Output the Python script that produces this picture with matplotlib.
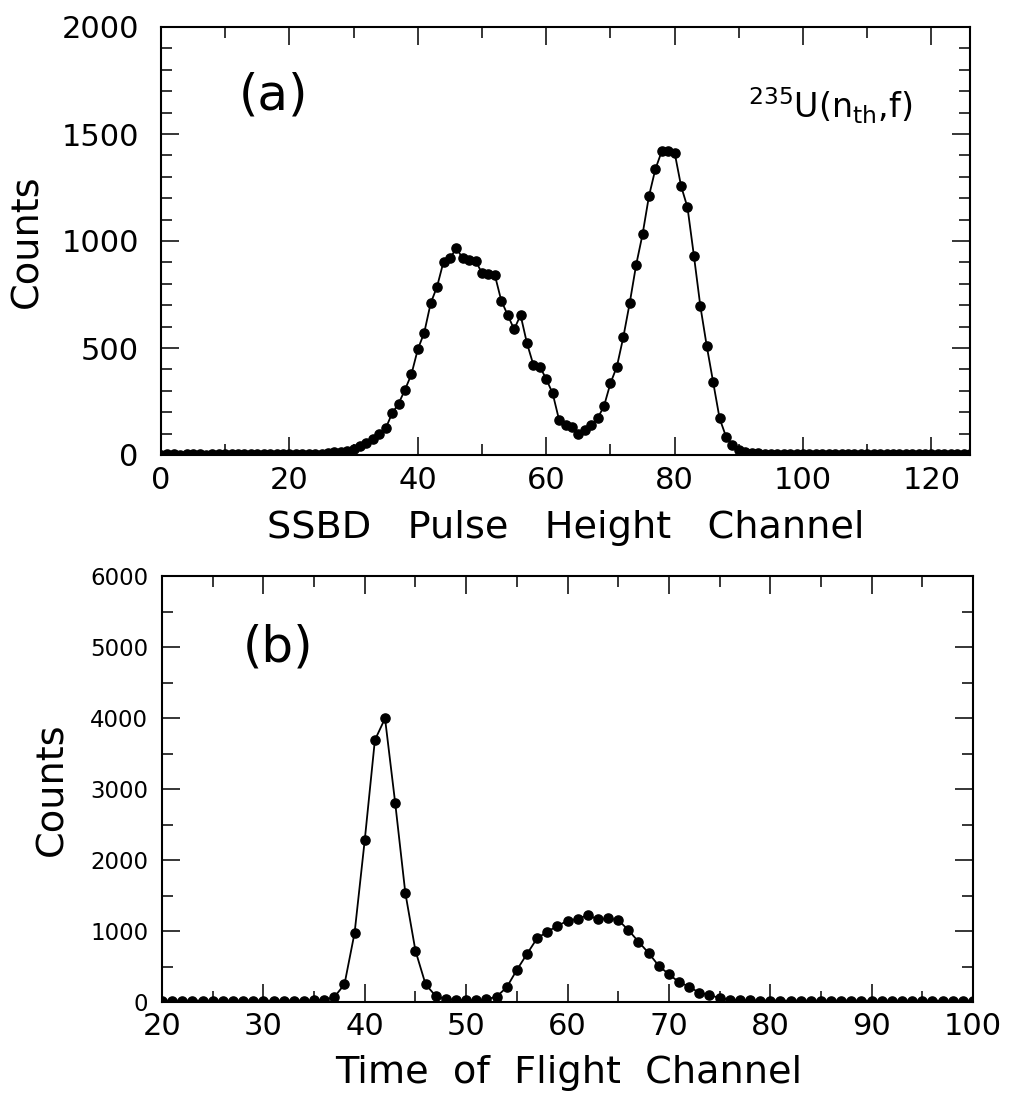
import numpy as np
import matplotlib
matplotlib.use("Agg")
import matplotlib.pyplot as plt
from matplotlib.ticker import MultipleLocator

plt.rcParams['font.family'] = ['DejaVu Sans']
plt.rcParams['mathtext.fontset'] = 'dejavusans'

# ---------------- data ----------------
# Panel (a): SSBD pulse height spectrum, channels 0..126
ssbd_channel = list(range(0, 127))
ssbd_counts = [
    2, 3, 3, 2, 3, 3, 3, 2, 3, 3, 3, 3, 4, 3, 3, 4, 3, 4, 4, 4,          # 0-19
    4, 5, 5, 6, 6, 7, 9, 12, 15, 20,                                     # 20-29
    28, 40, 55, 75, 100, 125, 195, 240, 305, 377,                        # 30-39
    494, 572, 709, 787, 903, 919, 966, 919, 911, 908,                    # 40-49
    849, 846, 840, 721, 654, 587, 654, 522, 421, 413,                    # 50-59
    355, 288, 164, 140, 129, 97, 117, 140, 171, 229,                     # 60-69
    335, 413, 550, 710, 888, 1031, 1210, 1336, 1420, 1422,               # 70-79
    1412, 1257, 1157, 931, 696, 509, 340, 171, 86, 47,                   # 80-89
    25, 15, 10, 8, 6, 5, 5, 4, 4, 4,                                     # 90-99
    4, 4, 4, 3, 3, 3, 3, 3, 3, 3,                                        # 100-109
    3, 3, 3, 3, 3, 3, 3, 3, 3, 3,                                        # 110-119
    3, 3, 3, 3, 3, 3, 3,                                                 # 120-126
]

# Panel (b): time of flight spectrum, channels 20..100
tof_channel = list(range(20, 101))
tof_counts = [
    18, 20, 19, 21, 20, 18, 20, 19, 20, 21,                              # 20-29
    20, 19, 20, 21, 20, 22,                                              # 30-35
    30, 70, 249, 976,                                                    # 36-39
    2281, 3689, 3994, 2807, 1539, 723, 249, 84,                          # 40-47
    40, 30, 25, 22, 38, 75,                                              # 48-53
    206, 451, 676, 897, 990, 1070, 1145, 1169, 1225, 1164,               # 54-63
    1178, 1155, 1014, 850, 690, 510, 390, 280, 216, 130,                 # 64-73
    100, 55, 35, 28, 22, 20,                                             # 74-79
    21, 20, 19, 20, 18, 20, 19, 20, 21, 19, 20,                          # 80-90
    19, 20, 18, 20, 19, 20, 19, 18, 20, 19,                              # 91-100
]

xlabel_a = "SSBD   Pulse   Height   Channel"
xlabel_b = "Time  of  Flight  Channel"
ylabel = "Counts"

# ---------------- figure ----------------
fig = plt.figure(figsize=(10.13, 10.96), dpi=100)
ax1 = fig.add_axes([161/1013, 1-455/1096, 809/1013, 428/1096])
ax2 = fig.add_axes([162/1013, 1-1002/1096, 811/1013, 426/1096])

line_kw = dict(color='black', marker='o', markersize=6.6, linewidth=1.3,
               markerfacecolor='black', markeredgecolor='black', clip_on=True)

ax1.plot(ssbd_channel, ssbd_counts, **line_kw)
ax2.plot(tof_channel, tof_counts, **line_kw)

ax1.set_xlim(0, 126)
ax1.set_ylim(0, 2000)
ax1.xaxis.set_major_locator(MultipleLocator(20))
ax1.xaxis.set_minor_locator(MultipleLocator(10))
ax1.yaxis.set_major_locator(MultipleLocator(500))
ax1.yaxis.set_minor_locator(MultipleLocator(100))

ax2.set_xlim(20, 100)
ax2.set_ylim(0, 6000)
ax2.xaxis.set_major_locator(MultipleLocator(10))
ax2.xaxis.set_minor_locator(MultipleLocator(5))
ax2.yaxis.set_major_locator(MultipleLocator(1000))
ax2.yaxis.set_minor_locator(MultipleLocator(500))

for ax in (ax1, ax2):
    for s in ax.spines.values():
        s.set_linewidth(1.5)
    ax.tick_params(which='both', direction='in', top=True, right=True,
                   width=1.1, color='black')
    ax.tick_params(which='major', length=13)
    ax.tick_params(which='minor', length=8)

ax1.tick_params(axis='y', which='major', labelsize=22, pad=16)
ax1.tick_params(axis='x', which='major', labelsize=22, pad=8)
ax2.tick_params(axis='y', which='major', labelsize=16.5, pad=10)
ax2.tick_params(axis='x', which='major', labelsize=22, pad=7)

# axis labels
ax1.set_xlabel(xlabel_a, fontsize=27.5)
ax1.xaxis.set_label_coords(0.5, -0.194)
ax1.xaxis.label.set_va('baseline')
ax2.set_xlabel(xlabel_b, fontsize=27.5)
ax2.xaxis.set_label_coords(0.501, -0.190)
ax2.xaxis.label.set_va('baseline')

ax1.set_ylabel(ylabel, fontsize=27.5)
ax1.yaxis.set_label_coords(-0.1656, 0.5)
ax1.yaxis.label.set_va('center')
ax2.set_ylabel(ylabel, fontsize=27.5)
ax2.yaxis.set_label_coords(-0.1356, 0.5)
ax2.yaxis.label.set_va('center')

# panel annotations
ax1.text(17.5, 1682, "(a)", fontsize=36, ha='center', va='center')
ax2.text(31.4, 5000, "(b)", fontsize=36, ha='center', va='center')
ax1.text(117, 1575, r"$^{235}$U(n$_{\mathrm{th}}$,f)", fontsize=24,
         ha='right', va='baseline')

fig.savefig("out.png", dpi=100)
